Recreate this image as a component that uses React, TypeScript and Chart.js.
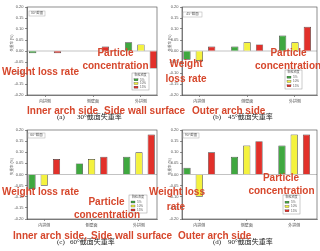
import React, { useEffect, useRef } from "react";
import { Chart, registerables } from "chart.js";
Chart.register(...registerables);

// ---------- data ----------
const categories = ["内拱侧", "侧壁面", "外拱侧"];
const seriesNames = ["5%", "10%", "15%"];
const legendTitle = "颗粒浓度";
const yAxisTitle = "失重率 (%)";
const yMin = -0.2;
const yMax = 0.2;
const yStep = 0.05;

const sectionLabels = ["30°截面", "45°截面", "60°截面", "90°截面"];
const captionLetters = ["(a)", "(b)", "(c)", "(d)"];
const captionTexts = ["30°截面失重率", "45°截面失重率", "60°截面失重率", "90°截面失重率"];

// weight loss rate (%) : [inner arch, side wall, outer arch]
const s30_c5 = [-0.01, 0.0, 0.04];
const s30_c10 = [0.0, 0.0, 0.03];
const s30_c15 = [-0.01, 0.02, -0.08];
const s45_c5 = [-0.04, 0.02, 0.07];
const s45_c10 = [-0.045, 0.04, 0.04];
const s45_c15 = [0.02, 0.03, 0.11];
const s60_c5 = [-0.065, 0.05, 0.08];
const s60_c10 = [-0.05, 0.07, 0.1];
const s60_c15 = [0.07, 0.08, 0.18];
const s90_c5 = [0.03, 0.08, 0.13];
const s90_c10 = [-0.1, 0.13, 0.18];
const s90_c15 = [0.1, 0.15, 0.18];

const panelSeries = [
  [s30_c5, s30_c10, s30_c15],
  [s45_c5, s45_c10, s45_c15],
  [s60_c5, s60_c10, s60_c15],
  [s90_c5, s90_c10, s90_c15],
];

// ---------- styles / layout ----------
const barColors = ["#3fa83f", "#f4f23e", "#e2302a"];
const RED = "#d6472c";
const FONT = "'Liberation Sans', 'Noto Sans CJK SC', sans-serif";

type PanelLayout = {
  left: number; top: number; w: number; h: number;
  axisX: number; right: number; plotTop: number; plotBottom: number;
  xMin: number; xMax: number;
  labelBox: number[]; legendBox: number[]; titleX: number;
};

const layouts: PanelLayout[] = [
  { left: 0, top: 0, w: 160, h: 125, axisX: 27, right: 157, plotTop: 7, plotBottom: 95, xMin: 0.623, xMax: 3.335, labelBox: [29, 11, 16, 5], legendBox: [132, 73, 17, 17], titleX: 12 },
  { left: 160, top: 0, w: 160, h: 125, axisX: 22, right: 157, plotTop: 7, plotBottom: 95, xMin: 0.638, xMax: 3.46, labelBox: [23, 12, 19, 5], legendBox: [125, 70, 17, 19], titleX: 10 },
  { left: 0, top: 125, w: 160, h: 126, axisX: 27, right: 157, plotTop: 5, plotBottom: 94, xMin: 0.636, xMax: 3.38, labelBox: [28, 8, 17, 5], legendBox: [129, 70, 18, 18], titleX: 12 },
  { left: 160, top: 125, w: 160, h: 126, axisX: 22, right: 157, plotTop: 5, plotBottom: 94, xMin: 0.636, xMax: 3.48, labelBox: [23, 8, 16, 5], legendBox: [123, 70, 17, 19], titleX: 10 },
];

type Note = { text: string; x: number; y: number; center?: boolean };
const notes: Note[] = [
  { text: "Weight loss rate", x: 2, y: 67 },
  { text: "Particle", x: 115.5, y: 47.5, center: true },
  { text: "concentration", x: 115.5, y: 61, center: true },
  { text: "Inner arch side", x: 27, y: 106 },
  { text: "Side wall surface", x: 104, y: 106 },
  { text: "Outer arch side", x: 192, y: 106 },
  { text: "Weight", x: 186, y: 59, center: true },
  { text: "loss rate", x: 186, y: 74, center: true },
  { text: "Particle", x: 288.5, y: 48, center: true },
  { text: "concentration", x: 255, y: 61 },
  { text: "Weight loss rate", x: 2, y: 187 },
  { text: "Particle", x: 106.5, y: 197, center: true },
  { text: "concentration", x: 107, y: 210, center: true },
  { text: "Inner arch side,", x: 13, y: 231 },
  { text: "Side wall surface", x: 91, y: 231 },
  { text: "Outer arch side", x: 178, y: 231 },
  { text: "Weight loss", x: 177, y: 187, center: true },
  { text: "rate", x: 176, y: 202, center: true },
  { text: "Particle", x: 281, y: 172.5, center: true },
  { text: "concentration", x: 281.5, y: 186, center: true },
];

const captionPos = [
  { lx: 57, tx: 77, y: 114 },
  { lx: 213, tx: 228, y: 114 },
  { lx: 57, tx: 70, y: 239 },
  { lx: 213, tx: 228, y: 239 },
];

function makeDecor(idx: number, L: PanelLayout) {
  return {
    id: "decor" + idx,
    beforeDatasetsDraw(chart: any) {
      const { ctx, chartArea: a, scales } = chart;
      const y0 = scales.y.getPixelForValue(0);
      ctx.save();
      ctx.strokeStyle = "#9a9a9a";
      ctx.lineWidth = 0.6;
      ctx.beginPath();
      ctx.moveTo(a.left, y0);
      ctx.lineTo(a.right, y0);
      ctx.stroke();
      ctx.restore();
    },
    afterDraw(chart: any) {
      const { ctx, chartArea: a } = chart;
      ctx.save();
      // frame
      ctx.strokeStyle = "#444";
      ctx.lineWidth = 0.6;
      ctx.strokeRect(a.left, a.top, a.right - a.left, a.bottom - a.top);
      // y title
      ctx.save();
      ctx.translate(L.titleX, a.top + (a.bottom - a.top) * 0.41);
      ctx.rotate(-Math.PI / 2);
      ctx.fillStyle = "#555";
      ctx.font = `3.5px ${FONT}`;
      ctx.textAlign = "center";
      ctx.textBaseline = "middle";
      ctx.fillText(yAxisTitle, 0, 0);
      ctx.restore();
      // section label box
      const [bx, by, bw, bh] = L.labelBox;
      ctx.fillStyle = "#fff";
      ctx.fillRect(bx, by, bw, bh);
      ctx.strokeStyle = "#aaa";
      ctx.lineWidth = 0.5;
      ctx.strokeRect(bx, by, bw, bh);
      ctx.fillStyle = "#555";
      ctx.font = `3.5px ${FONT}`;
      ctx.textAlign = "center";
      ctx.textBaseline = "middle";
      ctx.fillText(sectionLabels[idx], bx + bw / 2, by + bh / 2);
      // legend
      const [lx, ly, lw, lh] = L.legendBox;
      ctx.fillStyle = "#fff";
      ctx.fillRect(lx, ly, lw, lh);
      ctx.strokeStyle = "#999";
      ctx.lineWidth = 0.5;
      ctx.strokeRect(lx, ly, lw, lh);
      ctx.fillStyle = "#555";
      ctx.font = `3px ${FONT}`;
      ctx.fillText(legendTitle, lx + lw / 2, ly + 2.6);
      const rowGap = (lh - 6) / 3;
      chart.data.datasets.forEach((ds: any, i: number) => {
        const ry = ly + 6.2 + i * rowGap + rowGap / 2 - 1.2;
        ctx.fillStyle = ds.backgroundColor;
        ctx.fillRect(lx + 2, ry - 1, 4, 2);
        ctx.strokeStyle = "#333";
        ctx.lineWidth = 0.3;
        ctx.strokeRect(lx + 2, ry - 1, 4, 2);
        ctx.fillStyle = "#555";
        ctx.textAlign = "left";
        ctx.fillText(ds.label, lx + 8, ry);
      });
      ctx.restore();
    },
  };
}

function Panel({ idx }: { idx: number }) {
  const ref = useRef<HTMLCanvasElement>(null);
  const L = layouts[idx];
  useEffect(() => {
    const series = panelSeries[idx];
    const chart = new Chart(ref.current as HTMLCanvasElement, {
      type: "bar",
      data: {
        datasets: series.map((vals, s) => ({
          label: seriesNames[s],
          data: categories.map((_, i) => ({ x: i + 1, y: vals[i] })),
          backgroundColor: barColors[s],
          borderColor: "#3a3a3a",
          borderWidth: 0.7,
          categoryPercentage: 0.775,
          barPercentage: 0.59,
        })),
      },
      options: {
        animation: false,
        responsive: false,
        devicePixelRatio: 1,
        layout: { padding: { left: 0, right: L.w - L.right, top: L.plotTop, bottom: 0 } },
        plugins: { legend: { display: false }, tooltip: { enabled: false } },
        scales: {
          x: {
            type: "linear",
            min: L.xMin,
            max: L.xMax,
            offset: false,
            afterBuildTicks: (s: any) => {
              s.ticks = categories.map((_, i) => ({ value: i + 1 }));
            },
            afterFit: (s: any) => {
              s.height = L.h - L.plotBottom;
            },
            grid: { offset: false, drawOnChartArea: false, tickLength: 2, color: "#444", lineWidth: 0.6 },
            border: { display: true, color: "#444", width: 0.6 },
            ticks: {
              autoSkip: false,
              maxRotation: 0,
              padding: 2,
              color: "#555",
              font: { size: 4, family: FONT },
              callback: (v: any) => categories[Math.round(Number(v)) - 1] ?? "",
            },
          },
          y: {
            min: yMin,
            max: yMax,
            afterFit: (s: any) => {
              s.width = L.axisX;
            },
            grid: { drawOnChartArea: false, tickLength: 2, color: "#444", lineWidth: 0.6 },
            border: { display: true, color: "#444", width: 0.6 },
            ticks: {
              stepSize: yStep,
              padding: 1.5,
              color: "#555",
              font: { size: 4, family: FONT },
              callback: (v: any) => (Math.abs(Number(v)) < 1e-9 ? "0.00" : Number(v).toFixed(2)),
            },
          },
        },
      } as any,
      plugins: [makeDecor(idx, L)],
    });
    return () => chart.destroy();
  }, []);
  return (
    <canvas
      ref={ref}
      width={L.w}
      height={L.h}
      style={{ position: "absolute", left: L.left, top: L.top, width: L.w, height: L.h }}
    />
  );
}

export default function App() {
  return (
    <div style={{ position: "absolute", left: 0, top: 0, width: 320, height: 251, background: "#fff", overflow: "hidden" }}>
      {layouts.map((_, i) => (
        <Panel key={i} idx={i} />
      ))}
      {captionPos.map((c, i) => (
        <React.Fragment key={"c" + i}>
          <div style={{ position: "absolute", left: c.lx, top: c.y, fontSize: 7, lineHeight: "7px", fontFamily: "'Liberation Serif', serif", color: "#222", whiteSpace: "nowrap" }}>
            {captionLetters[i]}
          </div>
          <div style={{ position: "absolute", left: c.tx, top: c.y, fontSize: 7, lineHeight: "7px", fontFamily: "'Liberation Serif', 'Noto Sans CJK SC', serif", color: "#222", whiteSpace: "nowrap" }}>
            {captionTexts[i]}
          </div>
        </React.Fragment>
      ))}
      {notes.map((n, i) => (
        <div
          key={"n" + i}
          style={{
            position: "absolute",
            left: n.x,
            top: n.y,
            transform: n.center ? "translateX(-50%)" : undefined,
            fontFamily: "'Liberation Sans', Arial, sans-serif",
            fontWeight: "bold",
            fontSize: 10,
            lineHeight: "10px",
            color: RED,
            whiteSpace: "nowrap",
          }}
        >
          {n.text}
        </div>
      ))}
    </div>
  );
}
